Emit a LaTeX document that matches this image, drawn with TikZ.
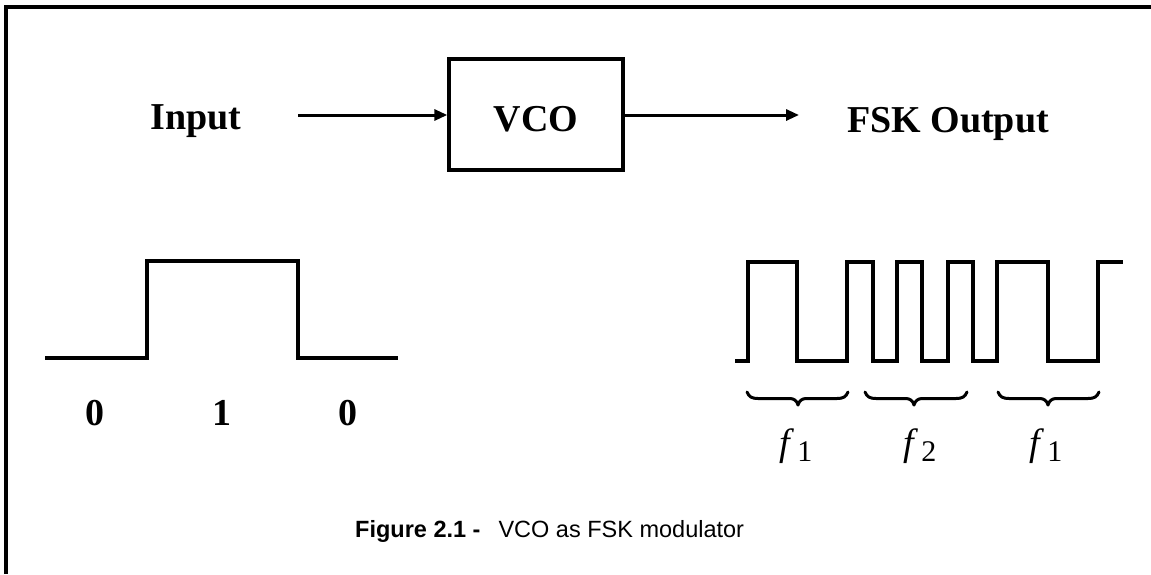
\documentclass[tikz,border=0pt]{standalone}
\usepackage{fontspec}
\setmainfont{Liberation Serif}
\newfontfamily\capfont{Liberation Sans}
\usetikzlibrary{arrows.meta}
\begin{document}
\begin{tikzpicture}[x=1pt,y=-1pt,
  lbl/.style={font=\fontsize{38}{40}\selectfont\bfseries, inner sep=0pt, anchor=base},
  wave/.style={line width=3.4pt, line join=miter},
  conn/.style={line width=3pt, -{Triangle[length=13pt,width=11pt]}},
  blk/.style={draw, line width=3.4pt, minimum width=174pt, minimum height=111pt, inner sep=0pt,
              text height=33pt, text depth=0pt,
              font=\fontsize{38}{40}\selectfont\bfseries},
  brc/.style={line width=3pt, line cap=round, line join=round},
  flab/.style={inner sep=0pt, anchor=base},
  frame/.style={line width=3.6pt}]
\useasboundingbox (0,0) rectangle (1151,574);
% frame
\coordinate (fa) at (6,574);
\coordinate (fb) at (6,7);
\coordinate (fc) at (1151,7);
\draw[frame] (fa) -- (fb) -- (fc);
% top row
\node[lbl] (in) at (196,129) {Input};
\node[blk] (vco) at (536,114.5) {VCO};
\node[lbl] (out) at (948,132) {FSK Output};
\coordinate (a0) at (298,115);
\coordinate (a1) at (799,115);
\draw[conn] (a0) -- (vco.west |- a0);
\draw[conn] (vco.east |- a1) -- (a1);
% input waveform
\draw[wave] (45,358) -- (147,358) -- (147,261) -- (298,261) -- (298,358) -- (398,358);
\node[lbl] (b0) at (95,425) {0};
\node[lbl] (b1) at (222,425) {1};
\node[lbl] (b2) at (348,425) {0};
% FSK waveform
\draw[wave] (735,361) -- (748,361) -- (748,262) -- (797,262) -- (797,361) -- (847,361)
  -- (847,262) -- (873,262) -- (873,361) -- (897,361) -- (897,262) -- (922,262)
  -- (922,361) -- (948,361) -- (948,262) -- (973,262) -- (973,361) -- (997,361)
  -- (997,262) -- (1048,262) -- (1048,361) -- (1098,361) -- (1098,262) -- (1123,262);
% braces
\foreach \l/\t/\r in {747/798/848, 865/914/967, 998/1048/1099}{
  \draw[brc] (\l,392) .. controls (\l+2,397) and (\l+5,398.5) .. (\l+11,398.5)
    -- (\t-8,398.5) .. controls (\t-4,398.5) and (\t-1,401) .. (\t,405)
    .. controls (\t+1,401) and (\t+4,398.5) .. (\t+8,398.5)
    -- (\r-11,398.5) .. controls (\r-5,398.5) and (\r-2,397) .. (\r,392);
}
\node[flab] (f1) at (796,455) {\fontsize{38}{40}\selectfont\itshape f\kern7pt\upshape\raisebox{-6pt}{\fontsize{30}{32}\selectfont 1}};
\node[flab] (f2) at (920,455) {\fontsize{38}{40}\selectfont\itshape f\kern7pt\upshape\raisebox{-6pt}{\fontsize{30}{32}\selectfont 2}};
\node[flab] (f3) at (1046,455) {\fontsize{38}{40}\selectfont\itshape f\kern7pt\upshape\raisebox{-6pt}{\fontsize{30}{32}\selectfont 1}};
% caption
\node[inner sep=0pt, anchor=base west] (cap) at (355,537)
  {\capfont\fontsize{23.5}{25}\selectfont\textbf{Figure 2.1 -}\hspace{18pt}VCO as FSK modulator};
\end{tikzpicture}
\end{document}
